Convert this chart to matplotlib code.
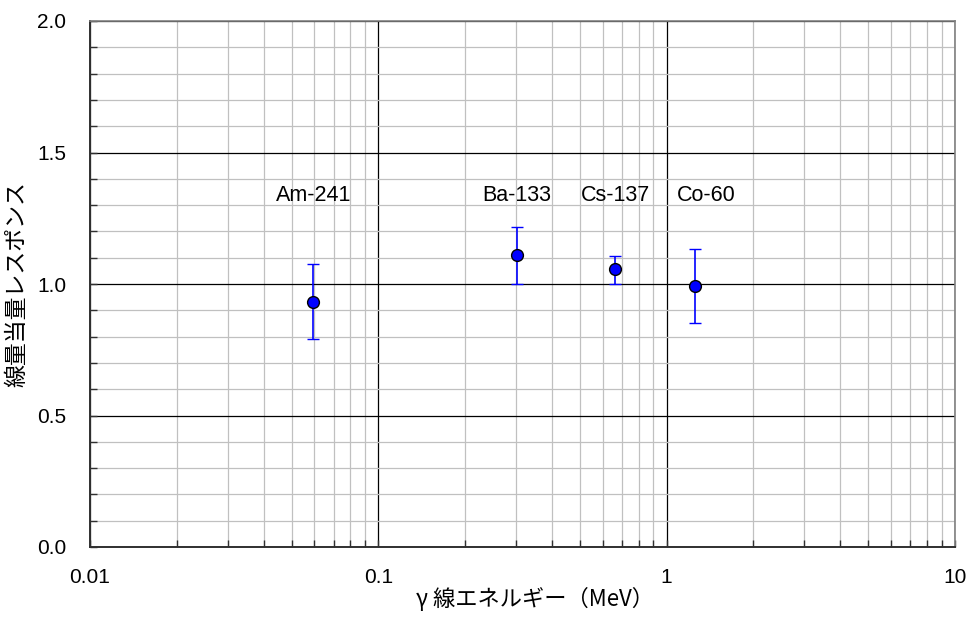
import matplotlib
matplotlib.use("Agg")
import matplotlib.pyplot as plt
from matplotlib.ticker import LogLocator, MultipleLocator, FixedLocator, FixedFormatter, NullFormatter

plt.rcParams['font.family'] = ['Liberation Sans', 'Noto Sans CJK JP', 'DejaVu Sans']

sources = ["Am-241", "Ba-133", "Cs-137", "Co-60"]
energy = [0.0595, 0.303, 0.662, 1.25]
response = [0.933, 1.110, 1.056, 0.992]
err_upper = [1.077, 1.218, 1.108, 1.133]
err_lower = [0.790, 1.001, 1.001, 0.852]
label_x = [0.0595, 0.303, 0.662, 1.37]
label_y = 1.335

x_ticks = [0.01, 0.1, 1, 10]
x_ticklabels = ["0.01", "0.1", "1", "10"]
y_ticks = [0.0, 0.5, 1.0, 1.5, 2.0]
y_ticklabels = ["0.0", "0.5", "1.0", "1.5", "2.0"]

fig = plt.figure(figsize=(9.73, 6.17), dpi=100)
ax = fig.add_axes([90/973, 70/617, 865/973, 526/617])

ax.set_xscale('log')
ax.set_xlim(0.01, 10)
ax.set_ylim(0, 2.0)

ax.xaxis.set_major_locator(FixedLocator(x_ticks))
ax.xaxis.set_major_formatter(FixedFormatter(x_ticklabels))
ax.xaxis.set_minor_locator(LogLocator(base=10, subs=range(2, 10)))
ax.xaxis.set_minor_formatter(NullFormatter())
ax.yaxis.set_major_locator(FixedLocator(y_ticks))
ax.yaxis.set_major_formatter(FixedFormatter(y_ticklabels))
ax.yaxis.set_minor_locator(MultipleLocator(0.1))

ax.grid(which='minor', color='#c0c0c0', linewidth=0.9)
ax.grid(which='major', color='black', linewidth=0.9)
ax.set_axisbelow(True)

for s in ['left', 'bottom']:
    ax.spines[s].set_color('#303030')
    ax.spines[s].set_linewidth(1.4)
for s in ['top', 'right']:
    ax.spines[s].set_color('#808080')
    ax.spines[s].set_linewidth(1.2)

ax.tick_params(which='both', direction='in', top=False, right=False, color='#303030')
ax.tick_params(which='major', length=5, width=1.0, labelsize=15)
ax.tick_params(which='minor', length=5, width=1.0)
ax.tick_params(axis='y', which='both', pad=17)
ax.tick_params(axis='x', which='both', pad=15)

yerr = [[r - lo for r, lo in zip(response, err_lower)],
        [hi - r for r, hi in zip(response, err_upper)]]
ax.errorbar(energy, response, yerr=yerr, fmt='o', color='blue', ecolor='blue',
            elinewidth=1.2, capsize=4.5, capthick=1.2,
            markersize=8.5, markerfacecolor='blue', markeredgecolor='black',
            markeredgewidth=1.0, zorder=5)

for name, lx in zip(sources, label_x):
    ax.text(lx, label_y, name, ha='center', va='center', fontsize=15.5, color='black')

ax.set_xlabel("γ 線エネルギー（MeV）", fontsize=16, labelpad=0,
              family=['Noto Sans CJK JP', 'DejaVu Sans'])
ax.xaxis.label.set_x(0.514)
ax.set_ylabel("線量当量レスポンス", fontsize=16.5, labelpad=6,
              family=['Noto Sans CJK JP', 'DejaVu Sans'])

fig.savefig("out.png", dpi=100)
